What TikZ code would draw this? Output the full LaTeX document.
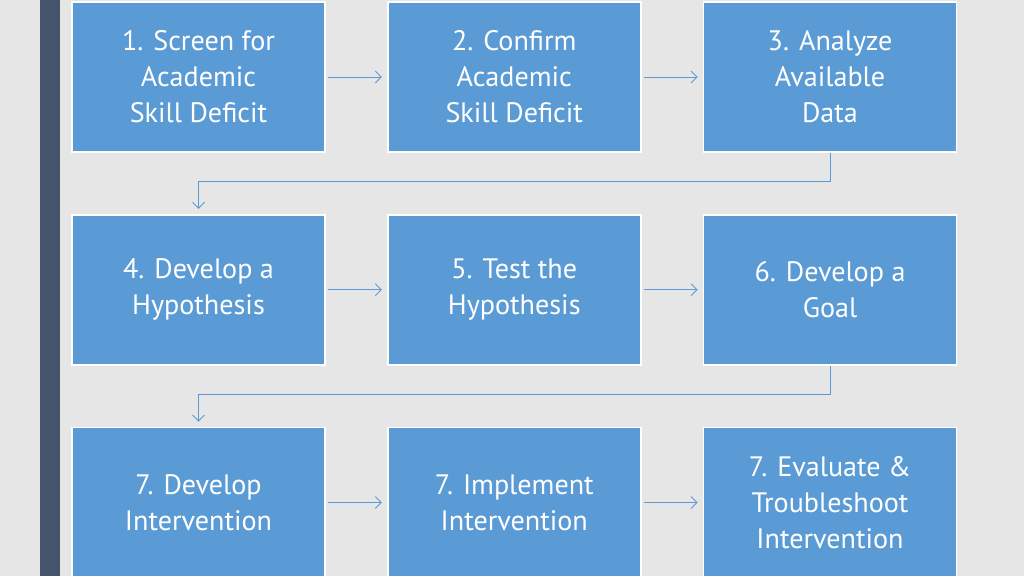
\documentclass[tikz,border=0pt]{standalone}
\usepackage{fontspec}
\setmainfont{PT Sans}
\usetikzlibrary{positioning, arrows.meta}
\definecolor{stepblue}{HTML}{5B9BD5}
\definecolor{pagegray}{HTML}{E7E6E6}
\definecolor{slatebar}{HTML}{44546A}
\tikzset{
    stepbox/.style={draw=white, line width=1pt, fill=stepblue, text=white, minimum width=5.06cm,
        minimum height=3cm, align=center, font=\fontsize{16}{20.5}\selectfont},
    link/.style={draw=stepblue, -{Straight Barb[length=1.2mm]}, line width=0.5pt}
}
\begin{document}
\begin{tikzpicture}
    \fill[pagegray] (0,0) rectangle (20.48,11.52);
    \fill[slatebar] (0.8,0) rectangle (1.2,11.52);
    \useasboundingbox (0,0) rectangle (20.48,11.52);

    % first row
    \node[stepbox] (S1) at (3.97,9.98) {1. Screen for\\Academic\\Skill Deficit};
    \node[stepbox, right=1.22cm of S1] (S2) {2. Confirm\\Academic\\Skill Deficit};
    \node[stepbox, right=1.22cm of S2] (S3) {3. Analyze\\Available\\Data};
    % second row
    \node[stepbox, below=1.22cm of S1] (S4) {4. Develop a\\Hypothesis};
    \node[stepbox, right=1.22cm of S4] (S5) {5. Test the\\Hypothesis};
    \node[stepbox, right=1.22cm of S5] (S6) {6. Develop a\\Goal};
    % third row
    \node[stepbox, below=1.22cm of S4] (S7) {7. Develop\\Intervention};
    \node[stepbox, right=1.22cm of S7] (S8) {7. Implement\\Intervention};
    \node[stepbox, right=1.22cm of S8] (S9) {7. Evaluate \&\\Troubleshoot\\Intervention};

    \foreach \a/\b in {S1/S2, S2/S3, S4/S5, S5/S6, S7/S8, S8/S9}{
        \draw[link] ([xshift=0.05cm]\a.east) -- ([xshift=-0.1cm]\b.west);
    }
    \draw[link] (S3.south) |- ++(0,-0.58) -| ([yshift=0.1cm]S4.north);
    \draw[link] (S6.south) |- ++(0,-0.58) -| ([yshift=0.1cm]S7.north);
\end{tikzpicture}
\end{document}
